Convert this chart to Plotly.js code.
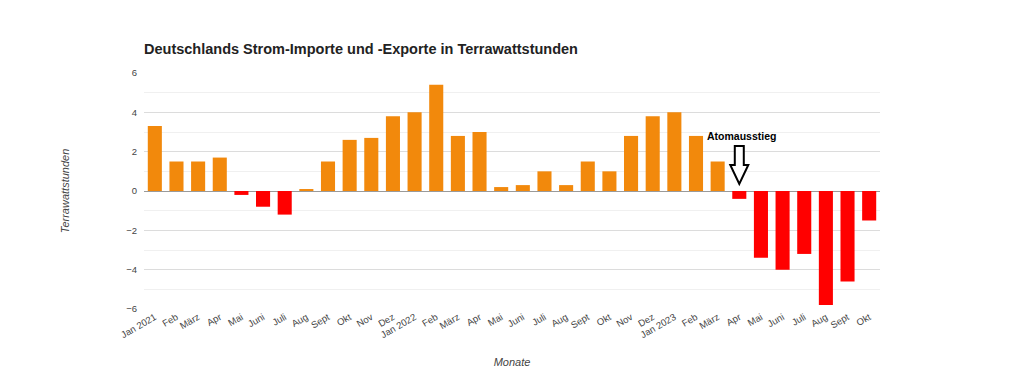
<!DOCTYPE html>
<html>
<head>
<meta charset="utf-8">
<script src="https://cdn.plot.ly/plotly-3.0.1.min.js"></script>
<style>html,body{margin:0;padding:0;background:#fff;}#chart{width:1024px;height:383px;}</style>
</head>
<body>
<div id="chart"></div>
<script>
// Categories (unique keys) and displayed tick labels
const months = [
  '2021-01','2021-02','2021-03','2021-04','2021-05','2021-06','2021-07','2021-08','2021-09','2021-10','2021-11','2021-12',
  '2022-01','2022-02','2022-03','2022-04','2022-05','2022-06','2022-07','2022-08','2022-09','2022-10','2022-11','2022-12',
  '2023-01','2023-02','2023-03','2023-04','2023-05','2023-06','2023-07','2023-08','2023-09','2023-10'
];
const tickLabels = [
  'Jan 2021','Feb','März','Apr','Mai','Juni','Juli','Aug','Sept','Okt','Nov','Dez',
  'Jan 2022','Feb','März','Apr','Mai','Juni','Juli','Aug','Sept','Okt','Nov','Dez',
  'Jan 2023','Feb','März','Apr','Mai','Juni','Juli','Aug','Sept','Okt'
];
// Net import (+) / export (-) in TWh
const values = [
  3.3, 1.5, 1.5, 1.7, -0.2, -0.8, -1.2, 0.1, 1.5, 2.6, 2.7, 3.8,
  4.0, 5.4, 2.8, 3.0, 0.2, 0.3, 1.0, 0.3, 1.5, 1.0, 2.8, 3.8,
  4.0, 2.8, 1.5, -0.4, -3.4, -4.0, -3.2, -5.8, -4.6, -1.5
];
const ORANGE = '#f2890c';
const RED = '#ff0000';
const colors = values.map(v => v >= 0 ? ORANGE : RED);

const font = 'Liberation Sans, Arial, sans-serif';

const trace = {
  type: 'bar',
  x: months,
  y: values,
  marker: {color: colors, line: {width: 0}},
  hoverinfo: 'x+y'
};

const layout = {
  width: 1024, height: 383,
  paper_bgcolor: '#fff', plot_bgcolor: '#fff',
  margin: {l: 144, r: 144, t: 73, b: 74},
  font: {family: font, color: '#444'},
  bargap: 0.35,
  showlegend: false,
  title: {
    text: '<b>Deutschlands Strom-Importe und -Exporte in Terrawattstunden</b>',
    font: {family: font, size: 14.5, color: '#222'},
    xref: 'paper', x: 0, xanchor: 'left',
    yref: 'container', y: 1 - 49/383, yanchor: 'middle'
  },
  xaxis: {
    type: 'category',
    tickmode: 'array',
    tickvals: months,
    ticktext: tickLabels,
    tickangle: -30,
    tickfont: {family: font, size: 9.5, color: '#444'},
    showgrid: false,
    showline: false,
    ticks: '',
    zeroline: false,
    title: {text: '<i>Monate</i>', font: {family: font, size: 11, color: '#444'}, standoff: 19}
  },
  yaxis: {
    range: [-6, 6],
    dtick: 2,
    tick0: 0,
    showgrid: true,
    gridcolor: '#dcdcdc',
    gridwidth: 1,
    minor: {dtick: 1, showgrid: true, gridcolor: '#f0f0f0', gridwidth: 1},
    zeroline: true,
    zerolinecolor: '#9a9a9a',
    zerolinewidth: 1,
    showline: false,
    ticks: '',
    tickfont: {family: font, size: 9.5, color: '#444'},
    ticklabelstandoff: 6,
    title: {text: '<i>Terrawattstunden</i>', font: {family: font, size: 11, color: '#444'}, standoff: 54}
  },
  annotations: [{
    x: '2023-04', xref: 'x', y: 2.8, yref: 'y',
    text: '<b>Atomausstieg</b>', showarrow: false,
    xshift: 2,
    font: {family: font, size: 10.5, color: '#000'}
  }],
  shapes: [{
    type: 'path',
    xref: 'x', yref: 'y',
    xsizemode: 'pixel', ysizemode: 'pixel',
    xanchor: '2023-04', yanchor: 0,
    path: 'M -4.5,45 L 4.5,45 L 4.5,26 L 9,26 L 0,7 L -9,26 L -4.5,26 Z',
    fillcolor: '#fff',
    line: {color: '#000', width: 2}
  }]
};

Plotly.newPlot('chart', [trace], layout, {displayModeBar: false, staticPlot: true});
</script>
</body>
</html>
